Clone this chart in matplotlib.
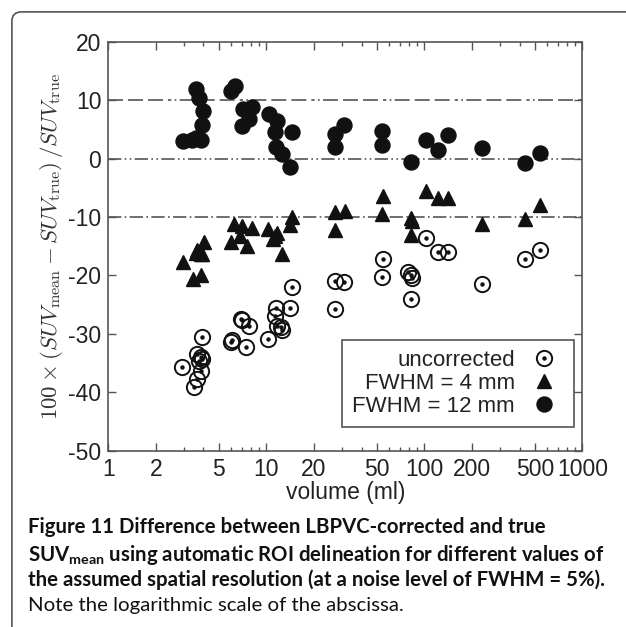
"""Figure 11: LBPVC-corrected vs true SUVmean, automatic ROI delineation."""

import matplotlib
matplotlib.use("Agg")
import matplotlib.pyplot as plt
from matplotlib.patches import FancyBboxPatch
from matplotlib.ticker import FixedLocator, LogLocator, NullFormatter

plt.rcParams["font.family"] = ["Liberation Sans", "DejaVu Sans"]
plt.rcParams["axes.unicode_minus"] = False
plt.rcParams["mathtext.fontset"] = "custom"
plt.rcParams["mathtext.bf"] = "Lato:bold"
plt.rcParams["mathtext.rm"] = "Lato"

# uncorrected (open circle with centre dot)
unc_vol = [2.94, 3.94, 3.66, 3.84, 3.94, 3.75, 3.84, 3.66, 3.48,
           6.87, 7.04, 7.75, 6.09, 5.94, 7.39,
           10.3, 11.5, 11.3, 11.6, 12.3, 12.6, 14.2, 14.6,
           27.1, 27.1, 31.2, 54.2, 54.8, 79, 82.4, 84, 82.4,
           103, 122, 142, 230, 435, 540]
unc_diff = [-35.7, -30.6, -33.4, -34.0, -34.3, -34.7, -36.3, -37.7, -39.1,
            -27.4, -27.7, -28.6, -31.1, -31.4, -32.3,
            -30.9, -25.5, -26.9, -28.6, -28.9, -29.4, -25.5, -22.0,
            -25.7, -21.0, -21.2, -20.3, -17.2, -19.5, -20.0, -20.4, -24.0,
            -13.6, -16.0, -16.0, -21.4, -17.2, -15.7]

# FWHM = 4 mm (triangles)
f4_vol = [2.95, 3.42, 3.84, 3.58, 3.84, 4.02, 3.66, 3.94,
          5.94, 6.22, 6.99, 6.86, 7.59, 8.09,
          10.3, 11.3, 11.6, 12.5, 14.2, 14.6, 11.0,
          27.1, 27.1, 31.6, 54.8, 54.2, 82.4, 83.5, 82.4,
          103, 122, 142, 230, 435, 540]
f4_diff = [-17.7, -20.7, -20.0, -16.2, -16.4, -14.2, -15.7, -16.3,
           -14.2, -11.2, -11.5, -13.2, -14.9, -11.9,
           -12.0, -13.2, -12.8, -16.4, -11.4, -10.0, -13.7,
           -12.2, -9.2, -9.0, -6.4, -9.5, -10.2, -10.7, -13.0,
           -5.5, -6.7, -6.7, -11.2, -10.3, -7.9]

# FWHM = 12 mm (filled circles)
f12_vol = [2.95, 3.58, 3.73, 3.98, 3.91, 3.58, 3.38, 3.84,
           6.30, 6.01, 6.99, 7.07, 7.72, 8.09,
           10.4, 11.7, 11.3, 11.5, 12.6, 14.1, 14.6,
           27.1, 27.1, 31.2, 54.2, 53.9, 82.4,
           103, 122, 142, 230, 435, 540]
f12_diff = [3.0, 11.9, 10.4, 8.2, 5.8, 3.6, 3.1, 3.2,
            12.5, 11.6, 5.5, 8.5, 6.8, 8.8,
            7.6, 6.4, 4.5, 1.9, 0.8, -1.4, 4.5,
            4.2, 1.9, 5.8, 4.8, 2.4, -0.6,
            3.1, 1.5, 4.1, 1.8, -0.8, 0.9]

ref_levels = [10, 0, -10]
ref_dashes = [(9, 3, 9, 3, 9, 3, 2, 2, 1, 2), (8, 2, 1, 2, 1, 2), (8, 2, 1, 2)]
x_ticks = [1, 2, 5, 10, 20, 50, 100, 200, 500, 1000]
y_ticks = [-50, -40, -30, -20, -10, 0, 10, 20]

INK = "#222222"
GREY = "#555555"

fig = plt.figure(figsize=(6.26, 6.27), dpi=100)
ax = fig.add_axes([0.173, 0.2812, 0.7575, 0.6523])

for lvl, dash in zip(ref_levels, ref_dashes):
    ax.axhline(lvl, color=GREY, lw=1.2, dashes=dash, zorder=1)

ring, = ax.plot(unc_vol, unc_diff, ls="none", marker="o", ms=11, mfc="none",
                mec="#111111", mew=1.4, zorder=3)
dot, = ax.plot(unc_vol, unc_diff, ls="none", marker="o", ms=2.2,
               color="#111111", zorder=3)
tri, = ax.plot(f4_vol, f4_diff, ls="none", marker="^", ms=10,
               color="#111111", zorder=3)
full, = ax.plot(f12_vol, f12_diff, ls="none", marker="o", ms=10.8,
                color="#111111", zorder=3)

ax.set_xscale("log")
ax.set_xlim(1, 1000)
ax.set_ylim(-50, 20)
ax.xaxis.set_major_locator(FixedLocator(x_ticks))
ax.xaxis.set_ticklabels([str(t) for t in x_ticks])
ax.xaxis.set_minor_locator(LogLocator(base=10, subs=(3, 4, 6, 7, 8, 9)))
ax.xaxis.set_minor_formatter(NullFormatter())
ax.yaxis.set_major_locator(FixedLocator(y_ticks))
ax.tick_params(which="both", direction="in", top=True, right=True,
               colors=GREY, labelcolor=INK, labelsize=16.5, width=1.0)
ax.tick_params(which="major", length=6, pad=5)
ax.tick_params(which="minor", length=3)
for sp in ax.spines.values():
    sp.set_color(GREY)
    sp.set_linewidth(1.2)

ax.set_xlabel("volume (ml)", fontsize=16.5, color=INK, labelpad=0)
ax.set_ylabel(r"$100\times(SUV_{\rm mean}-SUV_{\rm true})\,/SUV_{\rm true}$",
              fontsize=16.5, color="#333333", math_fontfamily="cm", labelpad=2)

leg = ax.legend([(ring, dot), tri, full],
                ["uncorrected", "FWHM = 4 mm", "FWHM = 12 mm"],
                loc="lower right", bbox_to_anchor=(0.982, 0.058),
                borderaxespad=0, markerfirst=False, numpoints=1,
                fontsize=16, fancybox=False, framealpha=1,
                edgecolor=GREY, labelspacing=0.1, handlelength=1.8,
                handletextpad=0.4, borderpad=0.45, labelcolor=INK)
leg.get_frame().set_linewidth(1.2)

# outer rounded frame of the figure panel
fig.patches.append(FancyBboxPatch((0.019, -0.1), 1.2, 1.081,
                                  boxstyle="round,pad=0,rounding_size=0.015",
                                  transform=fig.transFigure, fill=False,
                                  edgecolor=GREY, lw=1.2))

cap_x = 28 / 626
cap_kw = dict(family="Lato", fontsize=14.7, va="center", color="#111111")
fig.text(cap_x, 1 - 527 / 627, "Figure 11 Difference between LBPVC-corrected and true",
         weight="bold", **cap_kw)
fig.text(cap_x, 1 - 555 / 627,
         r"SUV$_{\mathbf{mean}}$ using automatic ROI delineation for different values of",
         weight="bold", **cap_kw)
fig.text(cap_x, 1 - 580 / 627,
         "the assumed spatial resolution (at a noise level of FWHM = 5%).",
         weight="bold", **cap_kw)
fig.text(cap_x, 1 - 606 / 627, "Note the logarithmic scale of the abscissa.",
         **cap_kw)

fig.savefig("out.png", dpi=100)
